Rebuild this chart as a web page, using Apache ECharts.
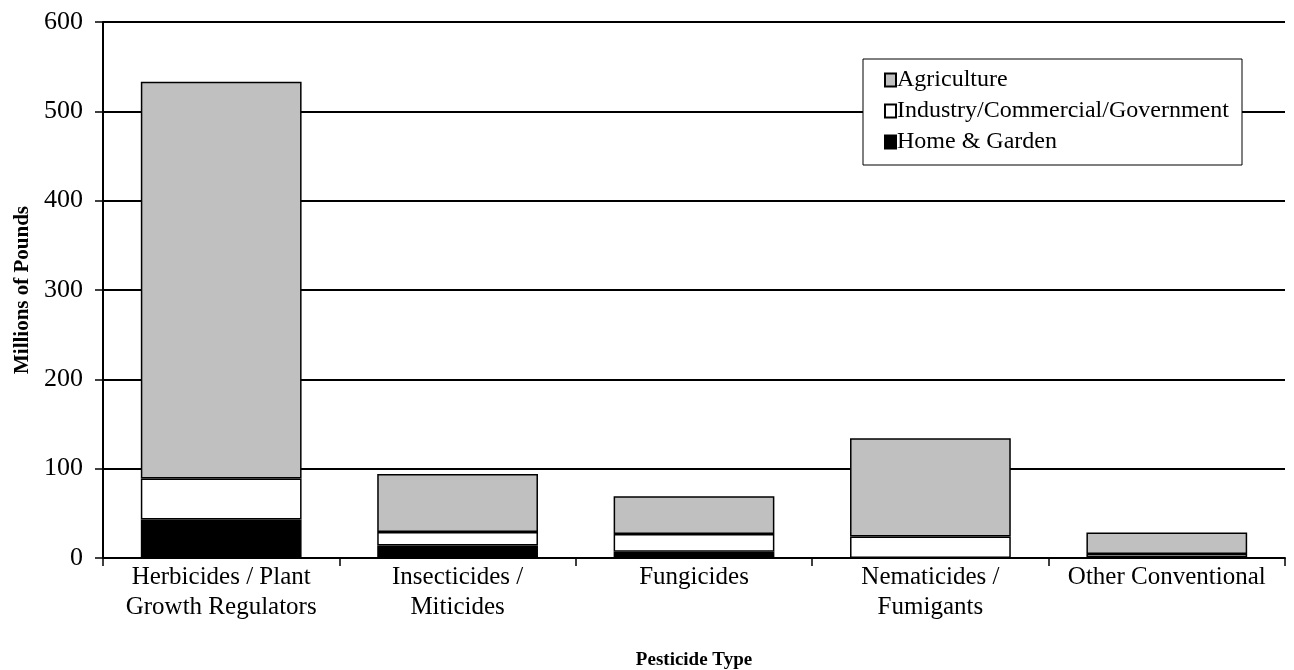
<!DOCTYPE html>
<html>
<head>
<meta charset="utf-8">
<script src="https://cdn.jsdelivr.net/npm/echarts@6/dist/echarts.min.js"></script>
<style>
  html, body { margin: 0; padding: 0; background: #fff; }
  #chart { width: 1294px; height: 670px; }
</style>
</head>
<body>
<div id="chart"></div>
<script>
// Pesticide use by type and market sector (millions of pounds)
const categories = [
  'Herbicides / Plant\nGrowth Regulators',
  'Insecticides /\nMiticides',
  'Fungicides',
  'Nematicides /\nFumigants',
  'Other Conventional'
];
const homeGarden = [43, 14, 7, 0, 0.5];
const industry = [46, 15, 20, 24, 4];
const agriculture = [444, 65, 42, 110, 24];
const yTicks = [0, 100, 200, 300, 400, 500, 600];

const serif = '"Liberation Serif", "Times New Roman", serif';
const chart = echarts.init(document.getElementById('chart'));

function barSeries(name, data, color) {
  return {
    name: name,
    type: 'bar',
    stack: 'total',
    data: data,
    barCategoryGap: '32%',
    itemStyle: { color: color, borderColor: '#000', borderWidth: 1.5 },
    emphasis: { disabled: true }
  };
}

chart.setOption({
  animation: false,
  backgroundColor: '#fff',
  grid: { left: 103, right: 9, top: 22, bottom: 112, outerBoundsMode: 'none', containLabel: false },
  graphic: [{
    type: 'rect',
    z: 5,
    shape: { x: 863, y: 59, width: 379, height: 106 },
    style: { fill: '#fff', stroke: '#000', lineWidth: 1 }
  }],
  legend: {
    z: 10,
    left: 879,
    top: 63,
    orient: 'vertical',
    itemWidth: 11,
    itemHeight: 13,
    itemGap: 7,
    icon: 'rect',
    data: ['Agriculture', 'Industry/Commercial/Government', 'Home & Garden'],
    textStyle: { fontFamily: serif, fontSize: 24, color: '#000', padding: [0, 0, 0, -4] },
    selectedMode: false
  },
  xAxis: {
    type: 'category',
    data: categories,
    name: 'Pesticide Type',
    nameLocation: 'middle',
    nameGap: 93,
    nameTextStyle: { fontFamily: serif, fontSize: 19, fontWeight: 'bold', color: '#000' },
    axisLine: { lineStyle: { color: '#000', width: 2 } },
    axisTick: { show: true, length: 8, lineStyle: { color: '#000', width: 1.5 } },
    axisLabel: { interval: 0, fontFamily: serif, fontSize: 25, color: '#000', margin: 4, lineHeight: 30 }
  },
  yAxis: {
    type: 'value',
    min: 0,
    max: 600,
    interval: 100,
    name: 'Millions of Pounds',
    nameLocation: 'middle',
    nameGap: 69,
    nameTextStyle: { fontFamily: serif, fontSize: 21, fontWeight: 'bold', color: '#000' },
    axisLine: { show: true, lineStyle: { color: '#000', width: 2 } },
    axisTick: { show: true, length: 8, lineStyle: { color: '#000', width: 1.5 } },
    axisLabel: {
      fontFamily: serif, fontSize: 26, color: '#000', margin: 20,
      formatter: function (v) { return yTicks.indexOf(v) >= 0 ? String(v) : ''; }
    },
    splitLine: { show: true, lineStyle: { color: '#000', width: 2 } }
  },
  series: [
    barSeries('Home & Garden', homeGarden, '#000000'),
    barSeries('Industry/Commercial/Government', industry, '#ffffff'),
    barSeries('Agriculture', agriculture, '#c0c0c0')
  ]
});
</script>
</body>
</html>
